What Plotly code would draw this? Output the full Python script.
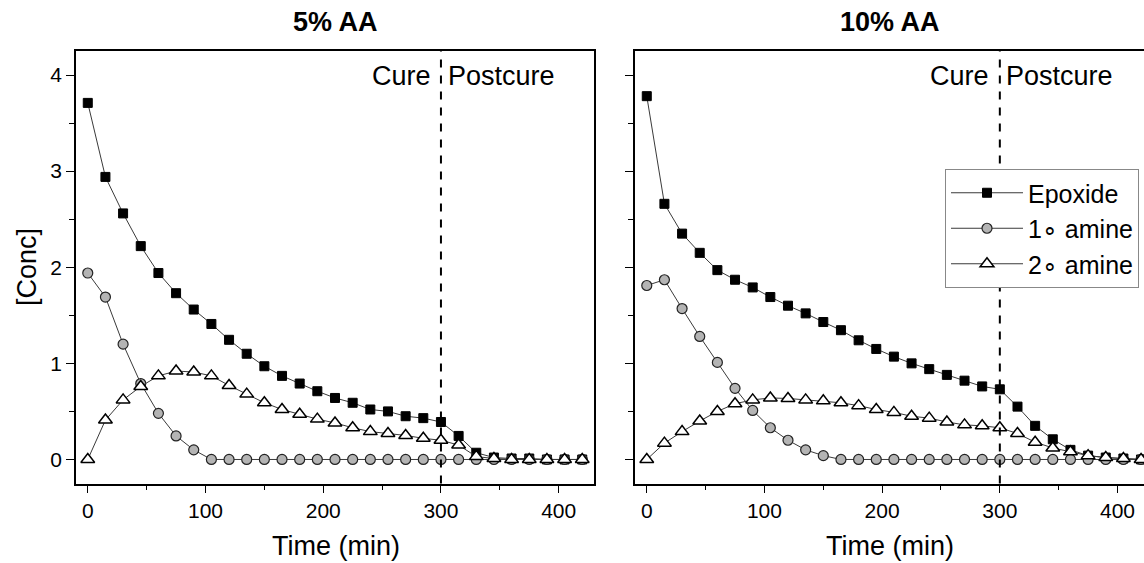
import plotly.graph_objects as go

# ---------------- data ----------------
time_min = [0, 15, 30, 45, 60, 75, 90, 105, 120, 135, 150, 165, 180, 195, 210,
            225, 240, 255, 270, 285, 300, 315, 330, 345, 360, 375, 390, 405, 420]

epoxide_5 = [3.71, 2.94, 2.56, 2.22, 1.94, 1.73, 1.56, 1.41, 1.245, 1.10, 0.97, 0.87,
             0.79, 0.71, 0.64, 0.59, 0.52, 0.50, 0.45, 0.43, 0.39, 0.245, 0.07, 0.02,
             0.01, 0.01, 0.0, 0.0, 0.0]
amine1_5 = [1.94, 1.69, 1.20, 0.79, 0.48, 0.245, 0.10, 0, 0, 0, 0, 0, 0, 0, 0,
            0, 0, 0, 0, 0, 0, 0, 0, 0, 0, 0, 0, 0, 0]
amine2_5 = [0.0, 0.41, 0.62, 0.76, 0.87, 0.92, 0.91, 0.87, 0.77, 0.68, 0.59, 0.52,
            0.47, 0.42, 0.38, 0.33, 0.29, 0.27, 0.25, 0.22, 0.20, 0.15, 0.03, 0.01,
            0, 0, 0, 0, 0]

epoxide_10 = [3.78, 2.66, 2.35, 2.15, 1.97, 1.87, 1.79, 1.69, 1.60, 1.52, 1.43, 1.345,
              1.24, 1.15, 1.07, 1.00, 0.94, 0.88, 0.82, 0.76, 0.73, 0.55, 0.35, 0.21,
              0.10, 0.04, 0.02, 0.01, 0.0]
amine1_10 = [1.81, 1.87, 1.57, 1.28, 1.01, 0.74, 0.51, 0.33, 0.20, 0.10, 0.04, 0, 0,
             0, 0, 0, 0, 0, 0, 0, 0, 0, 0, 0, 0, 0, 0, 0, 0]
amine2_10 = [0.0, 0.17, 0.29, 0.40, 0.50, 0.58, 0.62, 0.64, 0.635, 0.62, 0.61, 0.59,
             0.56, 0.52, 0.49, 0.45, 0.43, 0.39, 0.36, 0.35, 0.33, 0.27, 0.18, 0.12,
             0.08, 0.04, 0.02, 0.01, 0.0]

panel_titles = ["5% AA", "10% AA"]
series_names = ["Epoxide", "1\u2218 amine", "2\u2218 amine"]
cure_time = 300

# ---------------- layout helpers ----------------
W, H = 1144, 563
FONT = "Arial, Liberation Sans, sans-serif"


def px_x(p):
    return p / W


def px_y(p):
    return 1 - p / H


styles = [
    dict(symbol="square", size=9, color="black", line=dict(color="black", width=1)),
    dict(symbol="circle", size=10, color="#b4b4b4", line=dict(color="#222222", width=1.2)),
    dict(symbol="triangle-up", size=12, color="white", line=dict(color="black", width=1.5)),
]

fig = go.Figure()

panels = [
    ("x", "y", [epoxide_5, amine1_5, amine2_5], False),
    ("x2", "y2", [epoxide_10, amine1_10, amine2_10], True),
]
for xa, ya, series, show in panels:
    for name, vals, st in zip(series_names, series, styles):
        fig.add_trace(go.Scatter(
            x=time_min, y=vals, name=name, mode="lines+markers",
            xaxis=xa, yaxis=ya, showlegend=show, cliponaxis=False,
            line=dict(color="#3a3a3a", width=1),
            marker=st,
        ))

ydom = [px_y(483.5), px_y(51)]
axis_common = dict(
    showgrid=False, zeroline=False, showline=True, linecolor="black", linewidth=1.5,
    ticks="outside", ticklen=8, tickwidth=1.2, tickcolor="black",
    tickfont=dict(family=FONT, size=21, color="black"),
)

fig.update_layout(
    width=W, height=H,
    margin=dict(l=0, r=0, t=0, b=0),
    paper_bgcolor="white", plot_bgcolor="white",
    font=dict(family=FONT, color="black"),
    xaxis=dict(domain=[px_x(76), px_x(594)], range=[-10, 430], dtick=100, tick0=0,
               mirror=True, anchor="y",
               minor=dict(dtick=50, ticks="outside", ticklen=5, tickcolor="black", tickwidth=1.2),
               **axis_common),
    yaxis=dict(domain=ydom, range=[-0.25, 4.25], dtick=1, tick0=0, mirror=True, anchor="x",
               minor=dict(dtick=0.5, ticks="outside", ticklen=5, tickcolor="black", tickwidth=1.2),
               **axis_common),
    xaxis2=dict(domain=[px_x(635), 1.0], range=[-10, 422.5], dtick=100, tick0=0,
                mirror=True, anchor="y2",
                minor=dict(dtick=50, ticks="outside", ticklen=5, tickcolor="black", tickwidth=1.2),
                **axis_common),
    yaxis2=dict(domain=ydom, range=[-0.25, 4.25], dtick=1, tick0=0, mirror=False, anchor="x2",
                showticklabels=False,
                minor=dict(dtick=0.5, ticks="outside", ticklen=5, tickcolor="black", tickwidth=1.2),
                **axis_common),
    legend=dict(x=px_x(945), y=px_y(169), xanchor="left", yanchor="top",
                bgcolor="white", bordercolor="#888888", borderwidth=1,
                font=dict(family=FONT, size=25, color="black"),
                itemwidth=72, tracegroupgap=0),
)

# vertical cure/postcure divider
for xa, ya in [("x", "y"), ("x2", "y2")]:
    fig.add_shape(type="line", xref=xa, yref=f"{ya} domain", x0=cure_time, x1=cure_time,
                  y0=0, y1=1, line=dict(color="black", width=2, dash="8px,8px"))

ann = []
# panel titles
for title, cx in zip(panel_titles, [335, 890]):
    ann.append(dict(text=f"<b>{title}</b>", x=px_x(cx), y=px_y(22), xref="paper", yref="paper",
                    showarrow=False, xanchor="center", yanchor="middle",
                    font=dict(family=FONT, size=27, color="black")))
# Cure / Postcure labels
for line_x in [440.7, 999.3]:
    ann.append(dict(text="Cure", x=px_x(line_x - 8), y=px_y(76), xref="paper", yref="paper",
                    showarrow=False, xanchor="right", yanchor="middle",
                    font=dict(family=FONT, size=27, color="black")))
    ann.append(dict(text="Postcure", x=px_x(line_x + 5), y=px_y(76), xref="paper", yref="paper",
                    showarrow=False, xanchor="left", yanchor="middle",
                    font=dict(family=FONT, size=27, color="black")))
# axis titles
for cx in [336, 890]:
    ann.append(dict(text="Time (min)", x=px_x(cx), y=px_y(546), xref="paper", yref="paper",
                    showarrow=False, xanchor="center", yanchor="middle",
                    font=dict(family=FONT, size=27, color="black")))
ann.append(dict(text="[Conc]", x=px_x(27), y=px_y(267), xref="paper", yref="paper",
                showarrow=False, xanchor="center", yanchor="middle", textangle=-90,
                font=dict(family=FONT, size=27, color="black")))
fig.update_layout(annotations=ann)

fig.write_html("out.html")
